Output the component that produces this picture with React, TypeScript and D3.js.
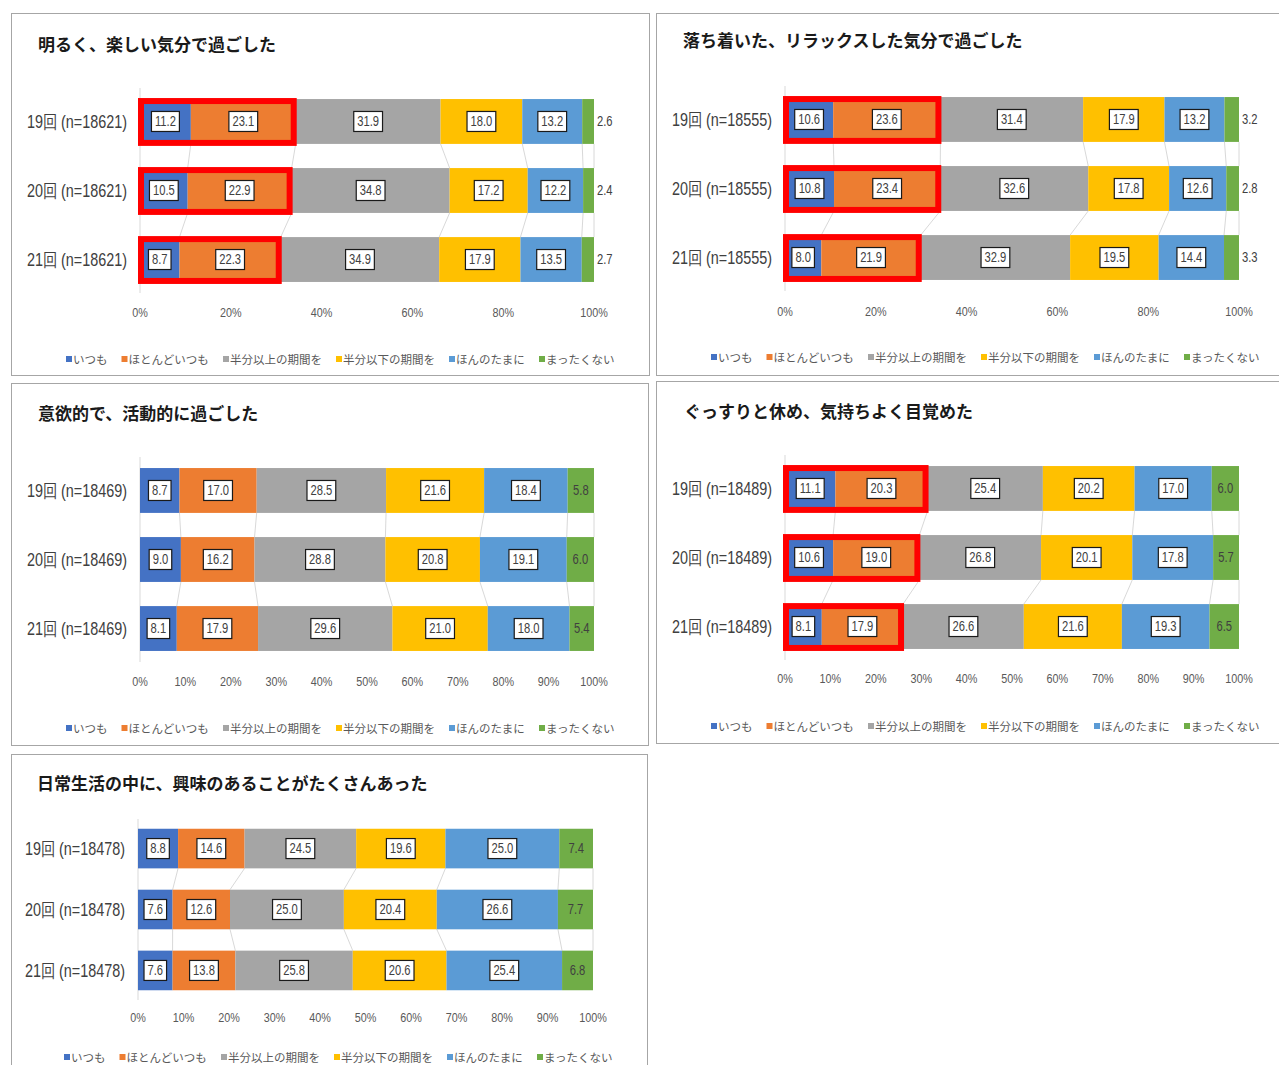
import * as React from 'react';
import * as d3 from 'd3';

// survey rounds (y categories)
const rounds = ['19回', '20回', '21回'];

const seriesNames = ['いつも', 'ほとんどいつも', '半分以上の期間を', '半分以下の期間を', 'ほんのたまに', 'まったくない'];
const seriesColors = ['#4472C4', '#ED7D31', '#A5A5A5', '#FFC000', '#5B9BD5', '#70AD47'];

const titles = [
  '明るく、楽しい気分で過ごした',
  '落ち着いた、リラックスした気分で過ごした',
  '意欲的で、活動的に過ごした',
  'ぐっすりと休め、気持ちよく目覚めた',
  '日常生活の中に、興味のあることがたくさんあった',
];
const sampleSizes = [18621, 18555, 18469, 18489, 18478];

// percentages per round, in seriesNames order
const cheerful = [
  [11.2, 23.1, 31.9, 18.0, 13.2, 2.6],
  [10.5, 22.9, 34.8, 17.2, 12.2, 2.4],
  [8.7, 22.3, 34.9, 17.9, 13.5, 2.7],
];
const relaxed = [
  [10.6, 23.6, 31.4, 17.9, 13.2, 3.2],
  [10.8, 23.4, 32.6, 17.8, 12.6, 2.8],
  [8.0, 21.9, 32.9, 19.5, 14.4, 3.3],
];
const active = [
  [8.7, 17.0, 28.5, 21.6, 18.4, 5.8],
  [9.0, 16.2, 28.8, 20.8, 19.1, 6.0],
  [8.1, 17.9, 29.6, 21.0, 18.0, 5.4],
];
const rested = [
  [11.1, 20.3, 25.4, 20.2, 17.0, 6.0],
  [10.6, 19.0, 26.8, 20.1, 17.8, 5.7],
  [8.1, 17.9, 26.6, 21.6, 19.3, 6.5],
];
const interested = [
  [8.8, 14.6, 24.5, 19.6, 25.0, 7.4],
  [7.6, 12.6, 25.0, 20.4, 26.6, 7.7],
  [7.6, 13.8, 25.8, 20.6, 25.4, 6.8],
];
const panelValues = [cheerful, relaxed, active, rested, interested];

const tickSteps = [0.2, 0.2, 0.1, 0.1, 0.1];
const highlighted = [true, true, false, true, false];

// panel layout (pixels)
const layouts = [
  { box: [11, 13, 638, 362], x0: 140, x1: 594, y0: 88, y1: 293, tickY: 313, legendY: 359, legendX: 66, titleX: 38, titleY: 43 },
  { box: [656, 13, 640, 362], x0: 785, x1: 1239, y0: 86, y1: 291, tickY: 312, legendY: 357, legendX: 711, titleX: 683, titleY: 39 },
  { box: [11, 383, 637, 362], x0: 140, x1: 594, y0: 457, y1: 662, tickY: 682, legendY: 728, legendX: 66, titleX: 38, titleY: 412 },
  { box: [656, 381, 640, 362], x0: 785, x1: 1239, y0: 455, y1: 660, tickY: 679, legendY: 726, legendX: 711, titleX: 684, titleY: 410 },
  { box: [11, 754, 636, 340], x0: 138, x1: 593, y0: 819, y1: 1000, tickY: 1018, legendY: 1057, legendX: 64, titleX: 37, titleY: 782 },
];

const SANS = '"Liberation Sans", Arial, sans-serif';
const JP = '"Noto Sans CJK JP", sans-serif';
const SQUEEZE = 0.8;

// condensed text, like Excel's narrow labels
function narrowText(parent: any, x: number, y: number, txt: string, size: number, anchor: string, fill: string) {
  const g = parent.append('g').attr('transform', `translate(${x},${y}) scale(${SQUEEZE},1)`);
  const t = g.append('text')
    .attr('x', 0).attr('y', 0)
    .attr('text-anchor', anchor)
    .attr('dominant-baseline', 'central')
    .style('font-family', SANS)
    .style('font-size', `${size}px`)
    .attr('fill', fill)
    .text(txt);
  return (t.node() as SVGTextElement).getComputedTextLength() * SQUEEZE;
}

export default function App() {
  const ref = React.useRef<SVGSVGElement>(null);

  React.useEffect(() => {
    const svg = d3.select(ref.current);
    svg.selectAll('*').remove();

    panelValues.forEach((values, pi) => {
      const L = layouts[pi];
      const g = svg.append('g');

      g.append('rect')
        .attr('x', L.box[0] + 0.5).attr('y', L.box[1] + 0.5)
        .attr('width', L.box[2]).attr('height', L.box[3])
        .attr('fill', '#fff').attr('stroke', '#a6a6a6');

      g.append('text')
        .attr('x', L.titleX).attr('y', L.titleY)
        .attr('dominant-baseline', 'central')
        .style('font-family', JP).style('font-size', '17px').style('font-weight', 700)
        .attr('fill', '#1a1a1a')
        .text(titles[pi]);

      const rows = values.map((v, i) => ({ round: rounds[i], values: v }));
      const layers = d3.stack<any, string>()
        .keys(seriesNames)
        .value((d, key) => d.values[seriesNames.indexOf(key)])
        .offset(d3.stackOffsetExpand)(rows);

      const x = d3.scaleLinear().domain([0, 1]).range([L.x0, L.x1]);
      const y = d3.scaleBand().domain(rounds).range([L.y0, L.y1]).paddingInner(0.35).paddingOuter(0.16);
      const bw = y.bandwidth();

      // axis line
      g.append('line')
        .attr('x1', L.x0).attr('x2', L.x0).attr('y1', L.y0).attr('y2', L.y1)
        .attr('stroke', '#d9d9d9');

      // series lines between bars
      layers.forEach(layer => {
        for (let i = 0; i < rounds.length - 1; i++) {
          g.append('line')
            .attr('x1', x(layer[i][1])).attr('y1', y(rounds[i])! + bw)
            .attr('x2', x(layer[i + 1][1])).attr('y2', y(rounds[i + 1])!)
            .attr('stroke', '#d4d4d4').attr('stroke-width', 0.9);
        }
      });

      // bars
      layers.forEach((layer, si) => {
        g.append('g').selectAll('rect')
          .data(layer)
          .enter()
          .append('rect')
          .attr('x', d => x(d[0]))
          .attr('y', d => y(d.data.round)!)
          .attr('width', d => x(d[1]) - x(d[0]))
          .attr('height', bw)
          .attr('fill', seriesColors[si]);
      });

      // red highlight around first two series
      if (highlighted[pi]) {
        layers[1].forEach(d => {
          g.append('rect')
            .attr('x', L.x0 + 1)
            .attr('y', y(d.data.round)! + 2)
            .attr('width', x(d[1]) - L.x0 - 3)
            .attr('height', bw - 3)
            .attr('fill', 'none')
            .attr('stroke', '#FF0000')
            .attr('stroke-width', 6);
        });
      }

      // data labels
      layers.forEach((layer, si) => {
        layer.forEach((d, ri) => {
          const v = values[ri][si];
          const cy = y(d.data.round)! + bw / 2;
          const last = si === seriesNames.length - 1;
          const lg = g.append('g');
          if (last && v < 4) {
            narrowText(lg, x(d[1]) + 3, cy, v.toFixed(1), 14, 'start', '#404040');
            return;
          }
          const cx = (x(d[0]) + x(d[1])) / 2;
          const box = lg.append('rect');
          const tw = narrowText(lg, cx, cy, v.toFixed(1), 14, 'middle', '#404040');
          if (!last) {
            box
              .attr('x', cx - tw / 2 - 3.5)
              .attr('y', cy - 10)
              .attr('width', tw + 7)
              .attr('height', 20)
              .attr('fill', '#fff')
              .attr('stroke', '#1a1a1a')
              .attr('stroke-width', 1.2);
          } else {
            box.remove();
          }
        });
      });

      // x tick labels
      const step = tickSteps[pi];
      d3.range(0, 1 + step / 2, step).forEach(t => {
        narrowText(g, x(t), L.tickY, d3.format('.0%')(t), 13.5, 'middle', '#595959');
      });

      // y category labels
      rounds.forEach(r => {
        narrowText(g, L.x0 - 13, y(r)! + bw / 2, `${r} (n=${sampleSizes[pi]})`, 18, 'end', '#404040');
      });

      // legend
      const fs = 11.5;
      let lx = L.legendX;
      seriesNames.forEach((name, si) => {
        g.append('rect')
          .attr('x', lx).attr('y', L.legendY - 3)
          .attr('width', 6).attr('height', 6)
          .attr('fill', seriesColors[si]);
        g.append('text')
          .attr('x', lx + 7).attr('y', L.legendY)
          .attr('dominant-baseline', 'central')
          .style('font-family', JP).style('font-size', `${fs}px`)
          .attr('fill', '#595959')
          .text(name);
        lx += 7 + name.length * fs + 14;
      });
    });
  }, []);

  return (
    <svg ref={ref} width={1279} height={1065}
      style={{ position: 'absolute', left: 0, top: 0, background: '#fff' }}>
    </svg>
  );
}
